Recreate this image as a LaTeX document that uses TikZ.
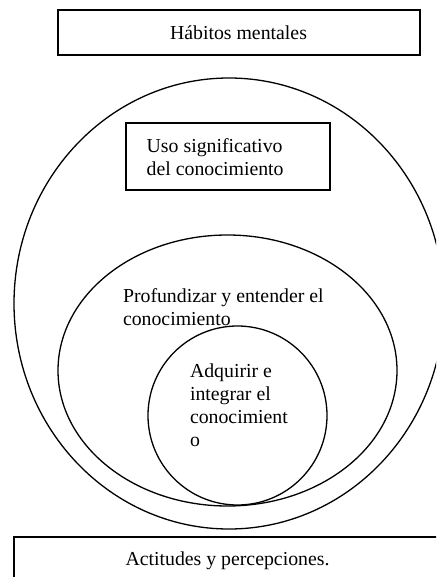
\documentclass[tikz,border=0pt]{standalone}
\usepackage{fontspec}
\setmainfont{Liberation Serif}
\usetikzlibrary{shapes.geometric}
\begin{document}
\begin{tikzpicture}[x=1pt,y=-1pt,
  lbl/.style={font=\fontsize{19.8}{23}\selectfont, inner sep=0pt, outer sep=0pt},
  frame/.style={draw, line width=1.3pt, inner sep=0pt, outer sep=0pt},
  ring/.style={draw, ellipse, line width=1.3pt, inner sep=0pt, outer sep=0pt}]
\useasboundingbox (0,0) rectangle (436,577);
\clip (0,0) rectangle (436,577);

% frames
\node[frame, minimum width=362pt, minimum height=45pt] (habitosbox) at (239,32.5) {};
\node[frame, minimum width=204pt, minimum height=67pt] (usobox) at (228,156.5) {};
\node[frame, minimum width=427pt, minimum height=60pt] (actitudesbox) at (227.5,567) {};

% nested ellipses
\node[ring, minimum width=430pt, minimum height=451pt] (outer) at (229,303.5) {};
\node[ring, minimum width=339pt, minimum height=271pt] (middle) at (227.5,370.5) {};
\node[ring, minimum width=179pt, minimum height=179pt] (inner) at (237.5,415.5) {};

% labels
\node[lbl, anchor=base] (habitos) at (238.5,39.3) {Hábitos mentales};
\node[lbl, anchor=north west, align=left] (uso) at (146.7,138.5)
  {Uso significativo\\del conocimiento};
\node[lbl, anchor=north west, align=left] (profundizar) at (123,288.5)
  {Profundizar y entender el\\conocimiento};
\node[lbl, anchor=north west, align=left] (adquirir) at (190,363.5)
  {Adquirir e\\integrar el\\conocimient\\o};
\node[lbl, anchor=base] (actitudes) at (227.5,565) {Actitudes y percepciones.};
\end{tikzpicture}
\end{document}
